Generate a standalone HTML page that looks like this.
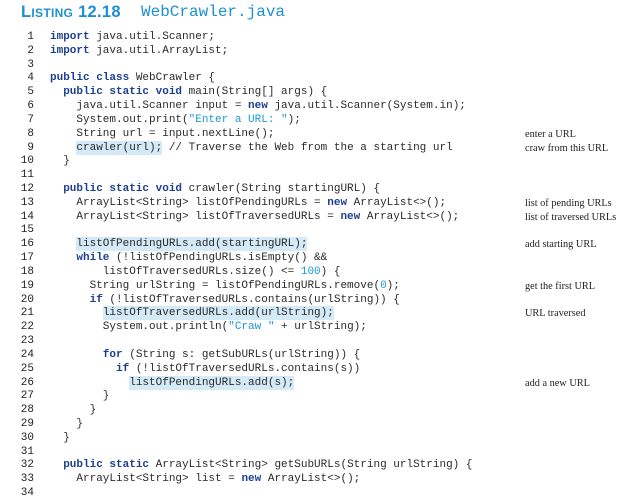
<!DOCTYPE html>
<html><head><meta charset="utf-8"><style>
body{margin:0;width:624px;height:500px;background:#fff;overflow:hidden;position:relative;font-family:"Liberation Mono",monospace}
.t{position:absolute;left:21px;top:3px;font-family:"Liberation Sans",sans-serif;font-weight:bold;color:#1e8fd0;font-size:16.5px;font-variant:small-caps;letter-spacing:0.3px}
.t2{position:absolute;left:141px;top:3px;font-size:16px;color:#1e8fd0}
.n{position:absolute;left:0;width:34px;text-align:right;font-size:11px;color:#222}
.c{position:absolute;left:50px;font-size:11px;color:#2a2a2a;white-space:pre}
.k{font-weight:bold;color:#1c3f8f}
.s{color:#1e98d6}
.h{background:#d4eaf7;padding:1px 0}
.a{position:absolute;left:525px;font-family:"Liberation Serif",serif;font-size:10.3px;color:#222}
</style></head><body>
<div class="t">Listing 12.18</div><div class="t2">WebCrawler.java</div>
<div id="L"></div>
<script>
var L=[
'<span class="k">import</span> java.util.Scanner;',
'<span class="k">import</span> java.util.ArrayList;',
'',
'<span class="k">public class</span> WebCrawler {',
'  <span class="k">public static void</span> main(String[] args) {',
'    java.util.Scanner input = <span class="k">new</span> java.util.Scanner(System.in);',
'    System.out.print(<span class="s">"Enter a URL: "</span>);',
'    String url = input.nextLine();',
'    <span class="h">crawler(url);</span> // Traverse the Web from the a starting url',
'  }',
'',
'  <span class="k">public static void</span> crawler(String startingURL) {',
'    ArrayList&lt;String&gt; listOfPendingURLs = <span class="k">new</span> ArrayList&lt;&gt;();',
'    ArrayList&lt;String&gt; listOfTraversedURLs = <span class="k">new</span> ArrayList&lt;&gt;();',
'',
'    <span class="h">listOfPendingURLs.add(startingURL);</span>',
'    <span class="k">while</span> (!listOfPendingURLs.isEmpty() &amp;&amp;',
'        listOfTraversedURLs.size() &lt;= <span class="s">100</span>) {',
'      String urlString = listOfPendingURLs.remove(<span class="s">0</span>);',
'      <span class="k">if</span> (!listOfTraversedURLs.contains(urlString)) {',
'        <span class="h">listOfTraversedURLs.add(urlString);</span>',
'        System.out.println(<span class="s">"Craw "</span> + urlString);',
'',
'        <span class="k">for</span> (String s: getSubURLs(urlString)) {',
'          <span class="k">if</span> (!listOfTraversedURLs.contains(s))',
'            <span class="h">listOfPendingURLs.add(s);</span>',
'        }',
'      }',
'    }',
'  }',
'',
'  <span class="k">public static</span> ArrayList&lt;String&gt; getSubURLs(String urlString) {',
'    ArrayList&lt;String&gt; list = <span class="k">new</span> ArrayList&lt;&gt;();',
''];
var A={8:'enter a URL',9:'craw from this URL',13:'list of pending URLs',14:'list of traversed URLs',16:'add starting URL',19:'get the first URL',21:'URL traversed',26:'add a new URL'};
var h='';
for(var i=0;i<34;i++){var y=31+i*13.82;
h+='<div class="n" style="top:'+y+'px">'+(i+1)+'</div><div class="c" style="top:'+y+'px">'+L[i]+'</div>';
if(A[i+1])h+='<div class="a" style="top:'+(y+1)+'px">'+A[i+1]+'</div>';}
document.getElementById('L').innerHTML=h;
</script>
</body></html>
